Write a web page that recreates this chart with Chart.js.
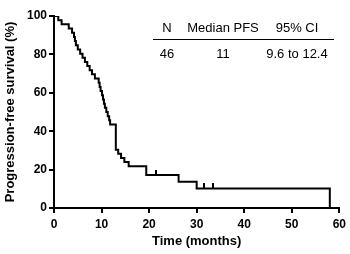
<!DOCTYPE html>
<html>
<head>
<meta charset="utf-8">
<script src="https://cdn.jsdelivr.net/npm/chart.js@4/dist/chart.umd.min.js"></script>
<style>
  html, body { margin: 0; padding: 0; background: #fff; }
  #wrap { position: relative; width: 350px; height: 254px; }
  .tbl { position: absolute; font: 13px "Liberation Sans", Arial, sans-serif; color: #000;
         transform: translate(-50%, -50%); white-space: nowrap; }
  #rule { position: absolute; left: 153px; top: 39px; width: 181px; height: 0;
          border-top: 1.5px solid #000; }
</style>
</head>
<body>
<div id="wrap">
  <canvas id="km" width="350" height="254"></canvas>
  <div id="table"></div>
  <div id="rule"></div>
</div>
<script>
// Kaplan-Meier PFS curve
const eventTimes = [0, 0.9, 1.6, 3.1, 3.8, 4.2, 4.4, 4.6, 5.0, 5.5, 6.0, 6.5, 7.0, 7.5, 8.0, 8.6,
                    9.4, 9.6, 9.8, 10.1, 10.3, 10.5, 10.7, 11.0, 11.3, 11.6, 11.8, 13.0, 13.5, 14.1,
                    14.8, 15.7, 19.4, 26.2, 30.0, 58.0];
const survival   = [100, 97.8, 95.7, 93.5, 91.3, 89.1, 87.0, 84.8, 82.6, 80.4, 78.3, 76.1, 73.9, 71.7, 69.6, 67.4,
                    65.2, 63.0, 60.9, 58.7, 56.5, 54.3, 52.2, 50.0, 47.8, 45.7, 43.5, 30.4, 28.3, 26.1,
                    23.9, 21.7, 17.2, 13.7, 10.2, 0];
const censorTimes = [21.5, 31.6, 33.5];
const censorSurv  = [17.2, 10.2, 10.2];

const xTicks = [0, 10, 20, 30, 40, 50, 60];
const yTicks = [0, 20, 40, 60, 80, 100];

const tableHead = ['N', 'Median PFS', '95% CI'];
const tableRow  = ['46', '11', '9.6 to 12.4'];

// ── summary table (HTML overlay) ──
(function () {
  const cols = [167, 223, 297];
  const host = document.getElementById('table');
  [[tableHead, 27], [tableRow, 53]].forEach(([cells, y]) => {
    cells.forEach((txt, i) => {
      const d = document.createElement('div');
      d.className = 'tbl';
      d.style.left = cols[i] + 'px';
      d.style.top = y + 'px';
      d.textContent = txt;
      host.appendChild(d);
    });
  });
})();

// censor tick: vertical stroke above the point only
function censorMark() {
  const c = document.createElement('canvas');
  c.width = 2; c.height = 10;
  const g = c.getContext('2d');
  g.fillStyle = '#000';
  g.fillRect(0, 0, 2, 5);
  return c;
}

const FONT = { family: '"Liberation Sans", Arial, sans-serif', weight: 'bold', size: 12 };

new Chart(document.getElementById('km'), {
  type: 'line',
  data: {
    datasets: [
      {
        data: eventTimes.map((t, i) => ({ x: t, y: survival[i] })),
        stepped: true,
        borderColor: '#000',
        borderWidth: 2,
        pointRadius: 0,
        fill: false,
      },
      {
        type: 'scatter',
        data: censorTimes.map((t, i) => ({ x: t, y: censorSurv[i] })),
        pointStyle: censorMark(),
        pointRadius: 5,
        showLine: false,
      }
    ]
  },
  options: {
    responsive: false,
    animation: false,
    layout: { padding: { top: 16, right: 9, left: 3, bottom: 5 } },
    plugins: { legend: { display: false }, tooltip: { enabled: false } },
    scales: {
      x: {
        type: 'linear', min: 0, max: 60,
        afterBuildTicks: s => { s.ticks = xTicks.map(v => ({ value: v })); },
        afterFit: s => { s.height = 41; },
        border: { color: '#000', width: 2 },
        grid: { drawOnChartArea: false, drawTicks: true, tickLength: 5, color: '#000', lineWidth: 2 },
        ticks: { color: '#000', font: FONT, padding: 4, maxRotation: 0 },
        title: { display: true, text: 'Time (months)', color: '#000',
                 font: { ...FONT, size: 13 }, padding: { top: 2, bottom: 0 } },
      },
      y: {
        type: 'linear', min: 0, max: 100,
        afterBuildTicks: s => { s.ticks = yTicks.map(v => ({ value: v })); },
        afterFit: s => { s.width = 51; },
        border: { color: '#000', width: 2 },
        grid: { drawOnChartArea: false, drawTicks: true, tickLength: 5, color: '#000', lineWidth: 2 },
        ticks: { color: '#000', font: FONT, padding: 2 },
        title: { display: true, text: 'Progression-free survival (%)', color: '#000',
                 font: { ...FONT, size: 13 }, padding: { top: 0, bottom: 2 } },
      }
    }
  }
});
</script>
</body>
</html>
